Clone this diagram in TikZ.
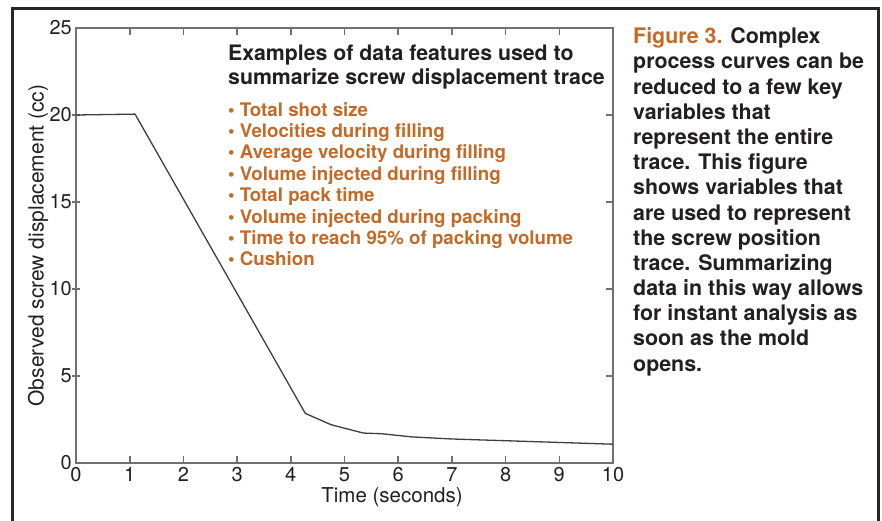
\documentclass[tikz,border=0pt]{standalone}
\usepackage{fontspec}
\setmainfont{TeX Gyre Heros}

\definecolor{figorange}{RGB}{196,106,40}
\definecolor{axisgray}{RGB}{112,112,116}
\definecolor{tracegray}{RGB}{62,62,64}
\definecolor{framegray}{RGB}{38,38,38}
\definecolor{textdark}{RGB}{35,31,32}

\begin{document}
\begin{tikzpicture}[x=53.7pt, y=17.4pt,
	axis/.style={draw=axisgray, line width=1.6pt},
	trace/.style={draw=tracegray, line width=1.3pt, line join=round},
	ticklab/.style={font=\fontsize{20}{20}\selectfont, text=textdark, inner sep=0pt},
	axislab/.style={font=\fontsize{20.5}{20.5}\selectfont, text=textdark, inner sep=0pt},
	headline/.style={font=\fontsize{21.3}{21.3}\selectfont\bfseries, text=textdark, inner sep=0pt, anchor=base west},
	feature/.style={font=\fontsize{18.7}{18.7}\selectfont\bfseries, text=figorange, inner sep=0pt, anchor=base west},
	caption/.style={font=\fontsize{21.4}{21.4}\selectfont\bfseries, text=textdark, inner sep=0pt, anchor=base west}]
		\useasboundingbox (-1.4153,-3.3333) rectangle (15.0093,26.609);
		% outer frame, open at the bottom
		\draw[framegray, line width=3pt] (-1.1918,-3.4) |- (14.935,26.092) -- (14.935,-3.4);

		% plot box and ticks
		\draw[axis] (0,0) rectangle (10,25);
		\foreach \x in {1,...,9}{
			\draw[axis] (\x,0) -- ++(0,7pt);
			\draw[axis] (\x,25) -- ++(0,-7pt);
		}
		\foreach \y in {5,10,15,20}{
			\draw[axis] (0,\y) ++(-4pt,0) -- ++(8pt,0);
			\draw[axis] (10,\y) -- ++(-7pt,0);
		}
		\foreach \x in {0,...,10}
			\node[ticklab, anchor=base] (xt\x) at (\x,0) [yshift=-19pt] {\x};
		\foreach \y in {0,5,...,25}
			\node[ticklab, anchor=east] (yt\y) at (0,\y) [xshift=-4pt] {\y};

		\node[axislab, anchor=base] (xlab) at (5.885,-2.28) {Time (seconds)};
		\node[axislab, font=\fontsize{21}{21}\selectfont, rotate=90] (ylab) at (-0.7076,12.5) {Observed screw displacement (cc)};

		% screw position trace
		\draw[trace] (0,20) -- (1.1,20.05) -- (4.27,2.85) -- (4.75,2.2) -- (5.35,1.72)
			-- (5.7,1.68) -- (6.25,1.5) -- (7,1.38) -- (8,1.28) -- (9,1.18) -- (10,1.08);

		% list of features
		\node[headline] (head1) at (2.83,23.12) {Examples of data features used to};
		\node[headline] (head2) at (2.83,21.78) {summarize screw displacement trace};
		\foreach \item [count=\i] in {Total shot size, Velocities during filling,
			Average velocity during filling, Volume injected during filling,
			Total pack time, Volume injected during packing,
			Time to reach 95\% of packing volume, Cushion}
			\node[feature] (feat\i) at (2.83,{19.94-(\i-1)*1.2299}) {\textbullet\ \item};

		% caption column
		\foreach \line [count=\i] in {{{\color{figorange}Figure 3.} Complex},
			process curves can be, reduced to a few key, variables that,
			represent the entire, trace. This figure, shows variables that,
			are used to represent, the screw position, trace. Summarizing,
			data in this way allows, for instant analysis as,
			soon as the mold, opens.}
			\node[caption] (cap\i) at (10.372,{24.1-(\i-1)*1.448}) {\line};
		\end{tikzpicture}
\end{document}
